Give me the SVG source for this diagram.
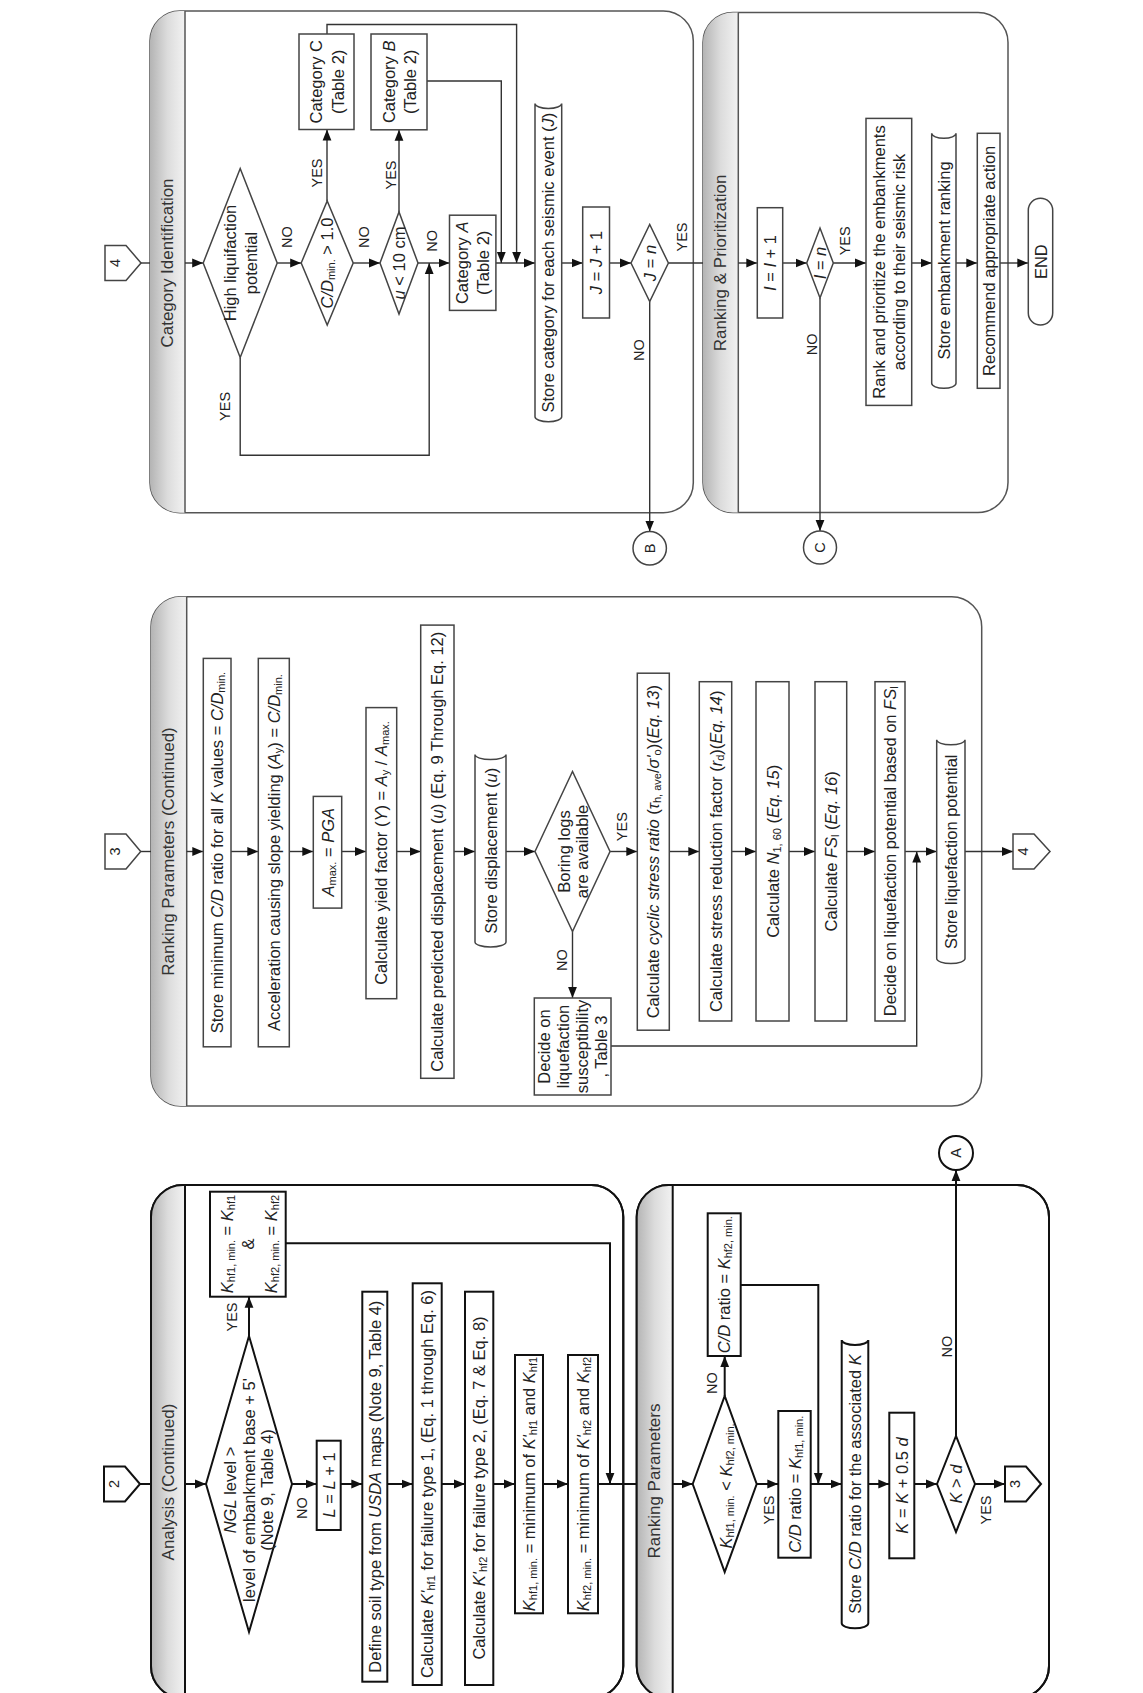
<svg xmlns="http://www.w3.org/2000/svg" width="1143" height="1693" viewBox="0 0 1143 1693">
<defs>
<linearGradient id="g" x1="0" y1="0" x2="1" y2="0"><stop offset="0" stop-color="#b4b4b4"/><stop offset="0.5" stop-color="#dcdcdc"/><stop offset="1" stop-color="#f2f2f2"/></linearGradient>
<marker id="ah" viewBox="0 0 10 10" refX="10" refY="5" markerWidth="11" markerHeight="11" markerUnits="userSpaceOnUse" orient="auto"><path d="M0,1 L10,5 L0,9 z" fill="#111"/></marker>
<style>
.t{font-family:"Liberation Sans",Arial,sans-serif;font-size:16.5px;fill:#222;text-anchor:middle;dominant-baseline:central}
.h{font-size:17px;fill:#333}
.lb{font-size:14.5px}
.i{font-style:italic}
.s{font-size:11px}
.pn{fill:#fff;stroke:#555;stroke-width:1.5}
.band{fill:url(#g);stroke:none}
.hl{stroke:#555;stroke-width:1.5;fill:none}
.bx{fill:#fff;stroke:#444;stroke-width:1.5}
.ln{fill:none;stroke:#333;stroke-width:1.4}
.a{marker-end:url(#ah)}
.dk{stroke:#111;stroke-width:2}
</style>
</defs>
<rect width="1143" height="1693" fill="#fff"/>

<g id="panels">
<g id="panel-category">
<rect class="pn" x="150" y="11" width="543.3" height="501.7" rx="30"/>
<path class="band" d="M185,11 H180 A30,30 0 0 0 150,41 V482.7 A30,30 0 0 0 180,512.7 H185 Z"/>
<path class="hl" d="M185,11 V512.7"/>
<text class="t h" transform="translate(167.5 263) rotate(-90)">Category Identification</text>
</g>
<g id="panel-ranking-prioritization">
<rect class="pn" x="703" y="12.5" width="305" height="500" rx="30"/>
<path class="band" d="M738.3,12.5 H733 A30,30 0 0 0 703,42.5 V482.5 A30,30 0 0 0 733,512.5 H738.3 Z"/>
<path class="hl" d="M738.3,12.5 V512.5"/>
<text class="t h" transform="translate(720.6 263) rotate(-90)">Ranking &amp; Prioritization</text>
</g>
<g id="panel-ranking-continued">
<rect class="pn" x="151" y="596.7" width="830.7" height="509.3" rx="30"/>
<path class="band" d="M186.7,596.7 H181 A30,30 0 0 0 151,626.7 V1076 A30,30 0 0 0 181,1106 H186.7 Z"/>
<path class="hl" d="M186.7,596.7 V1106"/>
<text class="t h" transform="translate(168.8 851.5) rotate(-90)">Ranking Parameters (Continued)</text>
</g>
<g id="panel-analysis">
<rect class="pn dk" x="151" y="1185" width="472.3" height="513" rx="32"/>
<path class="band" d="M185,1185 H183 A32,32 0 0 0 151,1217 V1666 A32,32 0 0 0 183,1698 H185 Z"/>
<path class="hl dk" d="M185,1185 V1698"/>
<rect x="151" y="1185" width="472.3" height="513" rx="32" fill="none" stroke="#111" stroke-width="2"/>
<text class="t h" transform="translate(168 1482) rotate(-90)">Analysis (Continued)</text>
</g>
<g id="panel-ranking">
<rect class="pn dk" x="636.7" y="1185" width="412.3" height="513" rx="32"/>
<path class="band" d="M672.7,1185 H668.7 A32,32 0 0 0 636.7,1217 V1666 A32,32 0 0 0 668.7,1698 H672.7 Z"/>
<path class="hl dk" d="M672.7,1185 V1698"/>
<rect x="636.7" y="1185" width="412.3" height="513" rx="32" fill="none" stroke="#111" stroke-width="2"/>
<text class="t h" transform="translate(654.7 1481) rotate(-90)">Ranking Parameters</text>
</g>
</g>

<g id="connectors">
<path class="ln" d="M141,263 H150"/>
<path class="ln a" d="M185,263 H203.2"/>
<path class="ln a" d="M277.2,263 H301.2"/>
<path class="ln a" d="M327,201 V129.5"/>
<path class="ln a" d="M353.2,263 H380"/>
<path class="ln a" d="M399,212 V129.8"/>
<path class="ln a" d="M418,263 H449.5"/>
<path class="ln a" d="M240.2,357.5 V455.3 H429.2 V263"/>
<path class="ln a" d="M495.9,263 H535"/>
<path class="ln a" d="M427,81 H501.3 V263"/>
<path class="ln a" d="M327,34 V24.5 H516.6 V263"/>
<path class="ln a" d="M561.7,263 H582.7"/>
<path class="ln a" d="M609.5,263 H631"/>
<path class="ln a" d="M649.7,301.5 V531.6"/>
<path class="ln" d="M668.4,263 H703"/>
<path class="ln a" d="M738.3,263 H757.3"/>
<path class="ln a" d="M782.7,263 H806.7"/>
<path class="ln a" d="M820,298 V531"/>
<path class="ln a" d="M833.3,263 H866"/>
<path class="ln a" d="M911.7,263 H931.7"/>
<path class="ln a" d="M956,263 H977.3"/>
<path class="ln a" d="M1000,263 H1028.3"/>

<path class="ln" d="M140.7,851.5 H151"/>
<path class="ln a" d="M186.7,851.5 H203.3"/>
<path class="ln a" d="M231,851.5 H258.3"/>
<path class="ln a" d="M289.3,851.5 H313.3"/>
<path class="ln a" d="M341.7,851.5 H366"/>
<path class="ln a" d="M396.7,851.5 H420.7"/>
<path class="ln a" d="M454,851.5 H475"/>
<path class="ln a" d="M506,851.5 H535"/>
<path class="ln a" d="M610,851.5 H637.3"/>
<path class="ln a" d="M572.5,931.5 V998"/>
<path class="ln a" d="M669.3,851.5 H699.3"/>
<path class="ln a" d="M731.7,851.5 H756"/>
<path class="ln a" d="M789,851.5 H815"/>
<path class="ln a" d="M846.7,851.5 H875"/>
<path class="ln a" d="M905,851.5 H936.7"/>
<path class="ln a" d="M611,1046 H916.7 V851.5"/>
<path class="ln a" d="M965,851.5 H1013"/>

<path class="ln dk" d="M140,1484 H151"/>
<path class="ln dk a" d="M185,1484 H206"/>
<path class="ln dk a" d="M249,1336 V1296.7"/>
<path class="ln dk a" d="M292,1484 H316.7"/>
<path class="ln dk a" d="M340.7,1484 H362.3"/>
<path class="ln dk a" d="M387.3,1484 H412.7"/>
<path class="ln dk a" d="M441.7,1484 H465"/>
<path class="ln dk a" d="M493.3,1484 H515"/>
<path class="ln dk a" d="M543,1484 H568"/>
<path class="ln dk a" d="M285.7,1243.3 H610 V1484"/>
<path class="ln dk" d="M598,1484 H636.7"/>
<path class="ln dk a" d="M672.7,1484 H692.7"/>
<path class="ln dk a" d="M724.7,1396 V1356"/>
<path class="ln dk a" d="M756.7,1484 H778.3"/>
<path class="ln dk a" d="M810.7,1484 H841.7"/>
<path class="ln dk a" d="M740.7,1285 H818.3 V1484"/>
<path class="ln dk a" d="M868.3,1484 H889.3"/>
<path class="ln dk a" d="M914.3,1484 H937"/>
<path class="ln dk a" d="M975,1484 H1005"/>
<path class="ln dk a" d="M956,1436 V1170"/>
</g>

<g id="labels">
<text class="t lb" transform="translate(224.6 406.4) rotate(-90)">YES</text>
<text class="t lb" transform="translate(287 237) rotate(-90)">NO</text>
<text class="t lb" transform="translate(317.4 173) rotate(-90)">YES</text>
<text class="t lb" transform="translate(364 237) rotate(-90)">NO</text>
<text class="t lb" transform="translate(390.6 175) rotate(-90)">YES</text>
<text class="t lb" transform="translate(432 240.8) rotate(-90)">NO</text>
<text class="t lb" transform="translate(638.7 350) rotate(-90)">NO</text>
<text class="t lb" transform="translate(681.6 237) rotate(-90)">YES</text>
<text class="t lb" transform="translate(845 240.8) rotate(-90)">YES</text>
<text class="t lb" transform="translate(811.7 344.3) rotate(-90)">NO</text>
<text class="t lb" transform="translate(621.7 826.7) rotate(-90)">YES</text>
<text class="t lb" transform="translate(561.7 960) rotate(-90)">NO</text>
<text class="t lb" transform="translate(232 1317) rotate(-90)">YES</text>
<text class="t lb" transform="translate(301.7 1508) rotate(-90)">NO</text>
<text class="t lb" transform="translate(711.7 1383) rotate(-90)">NO</text>
<text class="t lb" transform="translate(769 1510) rotate(-90)">YES</text>
<text class="t lb" transform="translate(946.7 1346.7) rotate(-90)">NO</text>
<text class="t lb" transform="translate(986 1510) rotate(-90)">YES</text>
</g>

<g id="n-offpage-4-in">
<path class="bx" d="M105,245.5 H126 L141,263 L126,280.5 H105 Z"/>
<text class="t lb" transform="translate(114.5 263) rotate(-90)">4</text>
</g>
<g id="n-high-liq">
<polygon class="bx" points="203.2,263 240.2,168.5 277.2,263 240.2,357.5"/>
<text class="t" transform="translate(230 263) rotate(-90)">High liquifaction</text>
<text class="t" transform="translate(251 263) rotate(-90)">potential</text>
</g>
<g id="n-cd-check">
<polygon class="bx" points="301.2,263 327.2,201 353.2,263 327.2,325"/>
<text class="t" transform="translate(327.2 263) rotate(-90)"><tspan class="i">C/D</tspan><tspan class="s" dy="4">min.</tspan><tspan dy="-4"> &gt; 1.0</tspan></text>
</g>
<g id="n-cat-c">
<rect class="bx" x="299" y="34" width="55" height="95.5"/>
<text class="t" transform="translate(316.4 81.8) rotate(-90)">Category C</text>
<text class="t" transform="translate(337.8 81.8) rotate(-90)">(Table 2)</text>
</g>
<g id="n-u-check">
<polygon class="bx" points="380,263 399,212 418,263 399,314"/>
<text class="t" transform="translate(399 263) rotate(-90)"><tspan class="i">u</tspan> &lt; 10 cm</text>
</g>
<g id="n-cat-b">
<rect class="bx" x="371" y="34" width="56" height="95.8"/>
<text class="t" transform="translate(388.8 81.8) rotate(-90)">Category <tspan class="i">B</tspan></text>
<text class="t" transform="translate(410.2 81.8) rotate(-90)">(Table 2)</text>
</g>
<g id="n-cat-a">
<rect class="bx" x="449.5" y="215.2" width="46.4" height="95.2"/>
<text class="t" transform="translate(462 262.8) rotate(-90)">Category <tspan class="i">A</tspan></text>
<text class="t" transform="translate(483.4 262.8) rotate(-90)">(Table 2)</text>
</g>
<g id="n-store-cat">
<path class="bx" d="M535,103.5 A13.35,5 0 0 0 561.7,103.5 V416.7 A13.35,5 0 0 1 535,416.7 Z"/>
<text class="t" transform="translate(548.3 262.6) rotate(-90)">Store category for each seismic event (<tspan class="i">J</tspan>)</text>
</g>
<g id="n-j-inc">
<rect class="bx" x="582.7" y="207" width="26.8" height="111"/>
<text class="t" transform="translate(596.1 262.5) rotate(-90)"><tspan class="i">J</tspan> = <tspan class="i">J</tspan> + 1</text>
</g>
<g id="n-j-eq-n">
<polygon class="bx" points="631,263 649.7,224.5 668.4,263 649.7,301.5"/>
<text class="t" transform="translate(649.7 263) rotate(-90)"><tspan class="i">J</tspan> = <tspan class="i">n</tspan></text>
</g>
<g id="n-b">
<circle class="bx" cx="649.7" cy="548.3" r="16.7"/>
<text class="t lb" transform="translate(649.7 548.3) rotate(-90)">B</text>
</g>
<g id="n-i-inc">
<rect class="bx" x="757.3" y="207.7" width="25.4" height="110.3"/>
<text class="t" transform="translate(770 263) rotate(-90)"><tspan class="i">I</tspan> = <tspan class="i">I</tspan> + 1</text>
</g>
<g id="n-i-eq-n">
<polygon class="bx" points="806.7,263 820,228 833.3,263 820,298"/>
<text class="t" transform="translate(820 263) rotate(-90)"><tspan class="i">I</tspan> = <tspan class="i">n</tspan></text>
</g>
<g id="n-c">
<circle class="bx" cx="820" cy="547.5" r="16.5"/>
<text class="t lb" transform="translate(820 547.5) rotate(-90)">C</text>
</g>
<g id="n-rank">
<rect class="bx" x="866" y="118.4" width="45.7" height="287"/>
<text class="t" transform="translate(878.5 262) rotate(-90)">Rank and prioritize the embankments</text>
<text class="t" transform="translate(899 262) rotate(-90)">according to their seismic risk</text>
</g>
<g id="n-store-rank">
<path class="bx" d="M931.7,133.3 A12.15,5 0 0 0 956,133.3 V383.3 A12.15,5 0 0 1 931.7,383.3 Z"/>
<text class="t" transform="translate(943.8 260.5) rotate(-90)">Store embankment ranking</text>
</g>
<g id="n-recommend">
<rect class="bx" x="977.3" y="133.3" width="22.7" height="255"/>
<text class="t" transform="translate(988.7 260.8) rotate(-90)">Recommend appropriate action</text>
</g>
<g id="n-end">
<rect class="bx" x="1028.3" y="198.3" width="24.4" height="126.7" rx="12.2" ry="12"/>
<text class="t" transform="translate(1040.5 261.7) rotate(-90)">END</text>
</g>

<g id="n-offpage-3-in">
<path class="bx" d="M105,834 H126 L140.7,851.5 L126,869 H105 Z"/>
<text class="t lb" transform="translate(114.5 851.5) rotate(-90)">3</text>
</g>
<g id="n-store-min">
<rect class="bx" x="203.3" y="658.4" width="27.7" height="388.4"/>
<text class="t" transform="translate(217.2 852.6) rotate(-90)">Store minimum <tspan class="i">C/D</tspan> ratio for all <tspan class="i">K</tspan> values = <tspan class="i">C/D</tspan><tspan class="s" dy="4">min.</tspan></text>
</g>
<g id="n-accel">
<rect class="bx" x="258.3" y="658.4" width="31" height="388.4"/>
<text class="t" transform="translate(273.8 852.6) rotate(-90)">Acceleration causing slope yielding (<tspan class="i">A</tspan><tspan class="s" dy="4">y</tspan><tspan dy="-4">) = </tspan><tspan class="i">C/D</tspan><tspan class="s" dy="4">min.</tspan></text>
</g>
<g id="n-amax">
<rect class="bx" x="313.3" y="796.4" width="28.4" height="111.7"/>
<text class="t" transform="translate(327.5 852.2) rotate(-90)"><tspan class="i">A</tspan><tspan class="s" dy="4">max.</tspan><tspan dy="-4"> = </tspan><tspan class="i">PGA</tspan></text>
</g>
<g id="n-yield">
<rect class="bx" x="366" y="707.6" width="30.7" height="291.1"/>
<text class="t" transform="translate(381.3 853) rotate(-90)">Calculate yield factor (<tspan class="i">Y</tspan>) = <tspan class="i">A</tspan><tspan class="s" dy="4">y</tspan><tspan dy="-4"> / </tspan><tspan class="i">A</tspan><tspan class="s" dy="4">max.</tspan></text>
</g>
<g id="n-displ">
<rect class="bx" x="420.7" y="625.1" width="33.3" height="453.2"/>
<text class="t" transform="translate(437.3 851.7) rotate(-90)">Calculate predicted displacement (<tspan class="i">u</tspan>) (Eq. 9 Through Eq. 12)</text>
</g>
<g id="n-store-displ">
<path class="bx" d="M475,754.6 A15.5,5 0 0 0 506,754.6 V942 A15.5,5 0 0 1 475,942 Z"/>
<text class="t" transform="translate(490.5 850.8) rotate(-90)">Store displacement (<tspan class="i">u</tspan>)</text>
</g>
<g id="n-boring">
<polygon class="bx" points="535,851.5 572.5,771.5 610,851.5 572.5,931.5"/>
<text class="t" transform="translate(563.5 851.5) rotate(-90)">Boring logs</text>
<text class="t" transform="translate(582 851.5) rotate(-90)">are available</text>
</g>
<g id="n-suscept">
<rect class="bx" x="534.3" y="998" width="76.7" height="97"/>
<text class="t" transform="translate(543.5 1046.5) rotate(-90)">Decide on</text>
<text class="t" transform="translate(562.5 1046.5) rotate(-90)">liquefaction</text>
<text class="t" transform="translate(581.5 1046.5) rotate(-90)">susceptibility</text>
<text class="t" transform="translate(600.5 1046.5) rotate(-90)">, Table 3</text>
</g>
<g id="n-csr">
<rect class="bx" x="637.3" y="673.2" width="32" height="357"/>
<text class="t" transform="translate(653.3 851.7) rotate(-90)">Calculate <tspan class="i">cyclic stress ratio</tspan> (<tspan class="i">τ</tspan><tspan class="s" dy="4">h, ave</tspan><tspan dy="-4">/</tspan><tspan class="i">σ'</tspan><tspan class="s" dy="4">o</tspan><tspan dy="-4">)(</tspan><tspan class="i">Eq. 13</tspan>)</text>
</g>
<g id="n-rd">
<rect class="bx" x="699.3" y="681.7" width="32.4" height="339.3"/>
<text class="t" transform="translate(715.5 851.3) rotate(-90)">Calculate stress reduction factor (<tspan class="i">r</tspan><tspan class="s" dy="4">d</tspan><tspan dy="-4">)(</tspan><tspan class="i">Eq. 14</tspan>)</text>
</g>
<g id="n-n160">
<rect class="bx" x="756" y="681.7" width="33" height="339.3"/>
<text class="t" transform="translate(772.5 851.3) rotate(-90)">Calculate <tspan class="i">N</tspan><tspan class="s" dy="4">1, 60</tspan><tspan dy="-4"> (</tspan><tspan class="i">Eq. 15</tspan>)</text>
</g>
<g id="n-fs">
<rect class="bx" x="815" y="681.7" width="31.7" height="339.3"/>
<text class="t" transform="translate(830.8 851.3) rotate(-90)">Calculate <tspan class="i">FS</tspan><tspan class="s" dy="4">l</tspan><tspan dy="-4"> (</tspan><tspan class="i">Eq. 16</tspan>)</text>
</g>
<g id="n-decide-pot">
<rect class="bx" x="875" y="681.7" width="30" height="339.3"/>
<text class="t" transform="translate(890 851.3) rotate(-90)">Decide on liquefaction potential based on <tspan class="i">FS</tspan><tspan class="s" dy="4">l</tspan></text>
</g>
<g id="n-store-liq">
<path class="bx" d="M936.7,739.8 A14.15,5 0 0 0 965,739.8 V958.6 A14.15,5 0 0 1 936.7,958.6 Z"/>
<text class="t" transform="translate(950.8 851.7) rotate(-90)">Store liquefaction potential</text>
</g>
<g id="n-offpage-4-out">
<path class="bx" d="M1013,834 H1034 L1050,851.5 L1034,869 H1013 Z"/>
<text class="t lb" transform="translate(1023 851.5) rotate(-90)">4</text>
</g>

<g id="n-offpage-2-in">
<path class="bx dk" d="M104,1466.5 H125 L140,1484 L125,1501.5 H104 Z"/>
<text class="t lb" transform="translate(114 1484) rotate(-90)">2</text>
</g>
<g id="n-ngl">
<polygon class="bx dk" points="206,1484 249,1336 292,1484 249,1632"/>
<text class="t" transform="translate(230 1490) rotate(-90)"><tspan class="i">NGL</tspan> level &gt;</text>
<text class="t" transform="translate(248.5 1490) rotate(-90)">level of embankment base + 5'</text>
<text class="t" transform="translate(267 1490) rotate(-90)">(Note 9, Table 4)</text>
</g>
<g id="n-kmin-set">
<rect class="bx dk" x="210" y="1191.7" width="75.7" height="105"/>
<text class="t" transform="translate(226.7 1244) rotate(-90)"><tspan class="i">K</tspan><tspan class="s" dy="4">hf1, min.</tspan><tspan dy="-4"> = </tspan><tspan class="i">K</tspan><tspan class="s" dy="4">hf1</tspan></text>
<text class="t" transform="translate(248.3 1244) rotate(-90)">&amp;</text>
<text class="t" transform="translate(270.5 1244) rotate(-90)"><tspan class="i">K</tspan><tspan class="s" dy="4">hf2, min.</tspan><tspan dy="-4"> = </tspan><tspan class="i">K</tspan><tspan class="s" dy="4">hf2</tspan></text>
</g>
<g id="n-l-inc">
<rect class="bx dk" x="316.7" y="1440.7" width="24" height="89.3"/>
<text class="t" transform="translate(328.7 1485) rotate(-90)"><tspan class="i">L</tspan> = <tspan class="i">L</tspan> + 1</text>
</g>
<g id="n-soil">
<rect class="bx dk" x="362.3" y="1291.7" width="25" height="390"/>
<text class="t" transform="translate(374.8 1486.7) rotate(-90)">Define soil type from <tspan class="i">USDA</tspan> maps (Note 9, Table 4)</text>
</g>
<g id="n-khf1">
<rect class="bx dk" x="412.7" y="1283.3" width="29" height="401.7"/>
<text class="t" transform="translate(427.2 1484) rotate(-90)">Calculate <tspan class="i">K'</tspan><tspan class="s" dy="4">hf1</tspan><tspan dy="-4"> for failure type 1, (Eq. 1 through Eq. 6)</tspan></text>
</g>
<g id="n-khf2">
<rect class="bx dk" x="465" y="1291.7" width="28.3" height="393.3"/>
<text class="t" transform="translate(479.2 1488) rotate(-90)">Calculate <tspan class="i">K'</tspan><tspan class="s" dy="4">hf2</tspan><tspan dy="-4"> for failure type 2, (Eq. 7 &amp; Eq. 8)</tspan></text>
</g>
<g id="n-kmin1">
<rect class="bx dk" x="515" y="1355" width="28" height="258.3"/>
<text class="t" transform="translate(529 1484) rotate(-90)"><tspan class="i">K</tspan><tspan class="s" dy="4">hf1, min.</tspan><tspan dy="-4"> = minimum of </tspan><tspan class="i">K'</tspan><tspan class="s" dy="4">hf1</tspan><tspan dy="-4"> and </tspan><tspan class="i">K</tspan><tspan class="s" dy="4">hf1</tspan></text>
</g>
<g id="n-kmin2">
<rect class="bx dk" x="568" y="1355" width="30" height="258.3"/>
<text class="t" transform="translate(583 1484) rotate(-90)"><tspan class="i">K</tspan><tspan class="s" dy="4">hf2, min.</tspan><tspan dy="-4"> = minimum of </tspan><tspan class="i">K'</tspan><tspan class="s" dy="4">hf2</tspan><tspan dy="-4"> and </tspan><tspan class="i">K</tspan><tspan class="s" dy="4">hf2</tspan></text>
</g>

<g id="n-kcompare">
<polygon class="bx dk" points="692.7,1484 724.7,1396 756.7,1484 724.7,1572"/>
<text class="t" transform="translate(726 1486) rotate(-90)"><tspan class="i">K</tspan><tspan class="s" dy="4">hf1, min.</tspan><tspan dy="-4"> &lt; </tspan><tspan class="i">K</tspan><tspan class="s" dy="4">hf2, min.</tspan></text>
</g>
<g id="n-cd-hf2">
<rect class="bx dk" x="707.7" y="1213.3" width="33" height="142.7"/>
<text class="t" transform="translate(724.2 1284.7) rotate(-90)"><tspan class="i">C/D</tspan> ratio = <tspan class="i">K</tspan><tspan class="s" dy="4">hf2, min.</tspan></text>
</g>
<g id="n-cd-hf1">
<rect class="bx dk" x="778.3" y="1411" width="32.4" height="146.7"/>
<text class="t" transform="translate(794.5 1484.3) rotate(-90)"><tspan class="i">C/D</tspan> ratio = <tspan class="i">K</tspan><tspan class="s" dy="4">hf1, min.</tspan></text>
</g>
<g id="n-store-cd">
<path class="bx dk" d="M841.7,1340 A13.3,5 0 0 0 868.3,1340 V1623.3 A13.3,5 0 0 1 841.7,1623.3 Z"/>
<text class="t" transform="translate(855 1484) rotate(-90)">Store <tspan class="i">C/D</tspan> ratio for the associated <tspan class="i">K</tspan></text>
</g>
<g id="n-k-inc">
<rect class="bx dk" x="889.3" y="1412.7" width="25" height="145.6"/>
<text class="t" transform="translate(901.8 1485.5) rotate(-90)"><tspan class="i">K</tspan> = <tspan class="i">K</tspan> + 0.5 <tspan class="i">d</tspan></text>
</g>
<g id="n-k-gt-d">
<polygon class="bx dk" points="937,1484 956,1436 975,1484 956,1532"/>
<text class="t" transform="translate(956 1484) rotate(-90)"><tspan class="i">K</tspan> &gt; <tspan class="i">d</tspan></text>
</g>
<g id="n-offpage-3-out">
<path class="bx dk" d="M1005,1466.5 H1026 L1041,1484 L1026,1501.5 H1005 Z"/>
<text class="t lb" transform="translate(1015 1484) rotate(-90)">3</text>
</g>
<g id="n-a">
<circle class="bx dk" cx="956" cy="1153" r="17"/>
<text class="t lb" transform="translate(956 1153) rotate(-90)">A</text>
</g>
</svg>
